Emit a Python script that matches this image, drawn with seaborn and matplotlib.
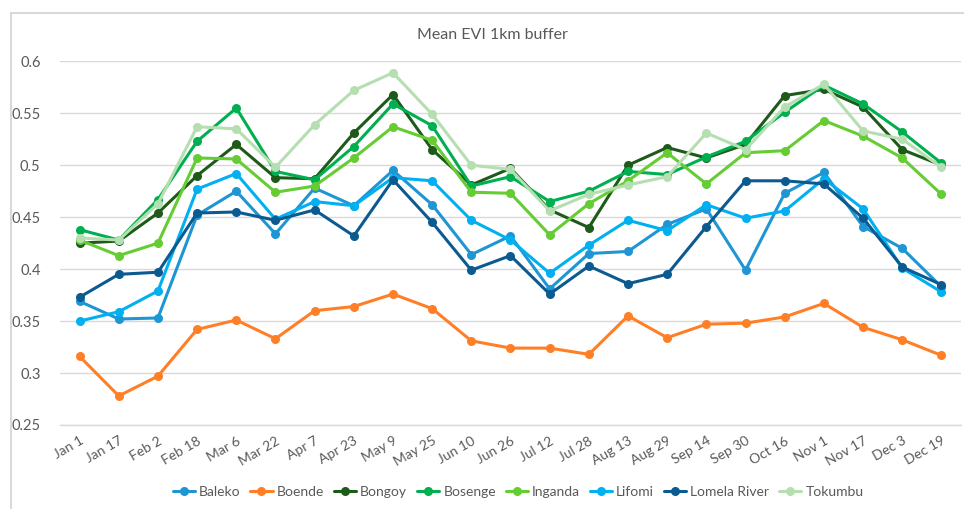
import matplotlib
matplotlib.use("Agg")
import matplotlib.pyplot as plt
import matplotlib.patches as mpatches
from matplotlib.ticker import FixedLocator
import pandas as pd
import seaborn as sns

dates = ["Jan 1", "Jan 17", "Feb 2", "Feb 18", "Mar 6", "Mar 22", "Apr 7", "Apr 23",
         "May 9", "May 25", "Jun 10", "Jun 26", "Jul 12", "Jul 28", "Aug 13", "Aug 29",
         "Sep 14", "Sep 30", "Oct 16", "Nov 1", "Nov 17", "Dec 3", "Dec 19"]

baleko = [0.369, 0.352, 0.353, 0.452, 0.475, 0.434, 0.478, 0.461, 0.495, 0.462, 0.414, 0.432,
          0.381, 0.415, 0.417, 0.443, 0.458, 0.399, 0.473, 0.493, 0.441, 0.420, 0.383]
boende = [0.316, 0.278, 0.297, 0.342, 0.351, 0.333, 0.360, 0.364, 0.376, 0.362, 0.331, 0.324,
          0.324, 0.318, 0.355, 0.334, 0.347, 0.348, 0.354, 0.367, 0.344, 0.332, 0.317]
bongoy = [0.425, 0.427, 0.454, 0.490, 0.520, 0.488, 0.487, 0.531, 0.568, 0.515, 0.481, 0.497,
          0.457, 0.440, 0.500, 0.517, 0.507, 0.520, 0.567, 0.573, 0.556, 0.515, 0.500]
bosenge = [0.438, 0.428, 0.467, 0.523, 0.555, 0.494, 0.486, 0.518, 0.559, 0.538, 0.480, 0.489,
           0.465, 0.475, 0.494, 0.491, 0.508, 0.523, 0.551, 0.577, 0.559, 0.532, 0.502]
inganda = [0.428, 0.413, 0.425, 0.507, 0.506, 0.474, 0.480, 0.507, 0.537, 0.524, 0.474, 0.473,
           0.433, 0.463, 0.485, 0.512, 0.482, 0.512, 0.514, 0.543, 0.528, 0.507, 0.472]
lifomi = [0.350, 0.359, 0.379, 0.477, 0.492, 0.448, 0.465, 0.461, 0.488, 0.485, 0.447, 0.428,
          0.396, 0.423, 0.447, 0.437, 0.462, 0.449, 0.456, 0.487, 0.458, 0.401, 0.378]
lomela = [0.373, 0.395, 0.397, 0.454, 0.455, 0.447, 0.457, 0.432, 0.486, 0.445, 0.399, 0.413,
          0.376, 0.403, 0.386, 0.395, 0.441, 0.485, 0.485, 0.482, 0.449, 0.402, 0.385]
tokumbu = [0.430, 0.428, 0.463, 0.537, 0.535, 0.498, 0.539, 0.572, 0.589, 0.549, 0.500, 0.496,
           0.456, 0.472, 0.481, 0.489, 0.531, 0.515, 0.556, 0.578, 0.533, 0.525, 0.498]

sites = ["Baleko", "Boende", "Bongoy", "Bosenge", "Inganda", "Lifomi", "Lomela River", "Tokumbu"]
colors = ["#1f96d4", "#ff7f27", "#1e5a1a", "#00b050", "#66cc33", "#00b0f0", "#0b5a90", "#b5dfb0"]
y_ticks = [0.25, 0.3, 0.35, 0.4, 0.45, 0.5, 0.55, 0.6]

wide = pd.DataFrame({"date": dates, "Baleko": baleko, "Boende": boende, "Bongoy": bongoy,
                     "Bosenge": bosenge, "Inganda": inganda, "Lifomi": lifomi,
                     "Lomela River": lomela, "Tokumbu": tokumbu})
wide["pos"] = range(len(dates))
df = wide.melt(id_vars=["date", "pos"], var_name="site", value_name="evi")

sns.set_style("white")
plt.rcParams["font.family"] = ["Lato", "DejaVu Sans"]
gray = "#595959"
grid_c = "#d9d9d9"

fig = plt.figure(figsize=(9.64, 5.09), dpi=100)
ax = fig.add_axes([60 / 964, 1 - 425 / 509, 901 / 964, (425 - 61.3) / 509])

sns.lineplot(data=df, x="pos", y="evi", hue="site", hue_order=sites,
             palette=dict(zip(sites, colors)), marker="o", markersize=6.5,
             markeredgewidth=0, linewidth=2.2, ax=ax, legend=True)

ax.set_xlim(-0.5, len(dates) - 0.5)
ax.set_ylim(0.25, 0.6)
ax.set_yticks(y_ticks)
ax.set_yticklabels([f"{v:g}" for v in y_ticks], color=gray, fontsize=10.5)
ax.set_xticks(range(len(dates)))
ax.set_xticklabels(dates, rotation=30, ha="right", rotation_mode="anchor",
                   color=gray, fontsize=10)
ax.xaxis.set_minor_locator(FixedLocator([i - 0.5 for i in range(len(dates) + 1)]))
ax.tick_params(axis="x", which="major", length=0, pad=7)
ax.tick_params(axis="x", which="minor", length=7, direction="inout", color=grid_c, width=1)
ax.tick_params(axis="y", length=0, pad=14)
ax.set_xlabel("")
ax.set_ylabel("")
ax.grid(axis="y", color=grid_c, linewidth=1)
for side in ["left", "right", "top"]:
    ax.spines[side].set_visible(False)
ax.spines["bottom"].set_color(grid_c)
ax.spines["bottom"].set_linewidth(1)

handles, labels = ax.get_legend_handles_labels()
ax.get_legend().remove()
fig.legend(handles, labels, loc="center", bbox_to_anchor=(518 / 964, 1 - 492 / 509),
           ncol=8, frameon=False, fontsize=10, handlelength=1.6, handletextpad=0.3,
           columnspacing=0.7, labelcolor=gray)

fig.text(492 / 964, 1 - 35 / 509, "Mean EVI 1km buffer", ha="center", va="center",
         fontsize=11.5, color=gray)

frame = mpatches.Rectangle((11 / 964, -0.2), 1.2, 1 - 13 / 509 + 0.2,
                           transform=fig.transFigure, fill=False,
                           edgecolor=grid_c, linewidth=1.5)
fig.patches.append(frame)

fig.savefig("out.png", dpi=100)
